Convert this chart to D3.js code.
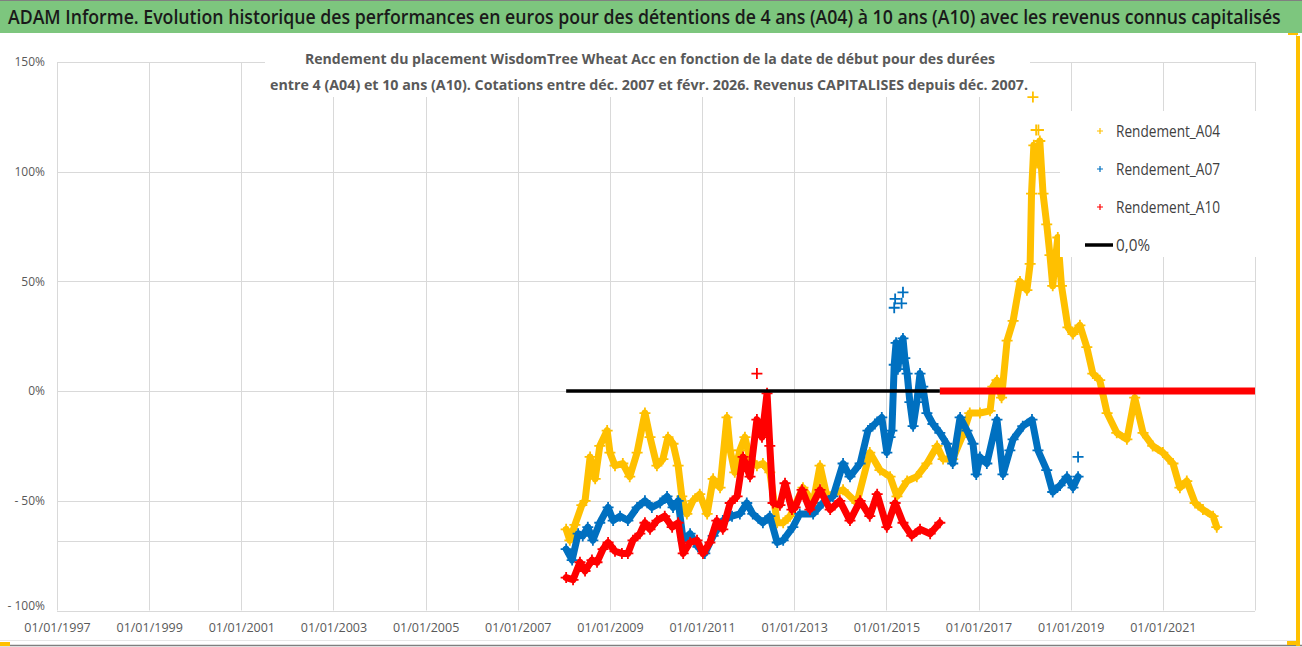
<!DOCTYPE html>
<html>
<head>
<meta charset="utf-8">
<script src="https://cdn.jsdelivr.net/npm/d3@7"></script>
<style>
  body { margin: 0; background: #fff; }
  svg { display: block; font-family: 'Open Sans', 'Noto Sans', sans-serif; }
</style>
</head>
<body>
<script>
'use strict';

// ---- data (decimal year of start date, return in %) ----
var xTicks = [1997, 1999, 2001, 2003, 2005, 2007, 2009, 2011, 2013, 2015, 2017, 2019, 2021];
var yTicks = [-100, -50, 0, 50, 100, 150];
var extraGrid = [-68.4];

var seriesNames = ['Rendement_A04', 'Rendement_A07', 'Rendement_A10'];
var seriesColors = ['#ffc000', '#0070c0', '#ff0000'];

var a04 = [
  [2008.05, -63], [2008.13, -68], [2008.24, -61], [2008.39, -52], [2008.46, -50], [2008.57, -30],
  [2008.68, -40], [2008.78, -25], [2008.94, -18], [2009.00, -28], [2009.11, -34], [2009.28, -33],
  [2009.43, -39], [2009.59, -28], [2009.76, -10], [2009.87, -21], [2010.02, -34], [2010.15, -31],
  [2010.26, -21], [2010.37, -24], [2010.48, -34], [2010.56, -48], [2010.67, -56], [2010.80, -50],
  [2010.95, -47], [2011.11, -56], [2011.24, -40], [2011.39, -44], [2011.54, -12], [2011.61, -27],
  [2011.71, -37], [2011.82, -27], [2011.93, -21], [2012.04, -31], [2012.19, -34], [2012.32, -33],
  [2012.47, -37], [2012.63, -60], [2012.76, -60], [2012.91, -57], [2013.19, -44], [2013.41, -51],
  [2013.56, -34], [2013.71, -48], [2014.06, -45], [2014.36, -51], [2014.64, -28], [2014.86, -36],
  [2015.08, -39], [2015.23, -48], [2015.45, -41], [2015.66, -39], [2015.88, -33], [2016.10, -25],
  [2016.23, -31], [2016.44, -31], [2016.64, -21], [2016.81, -10], [2017.03, -10], [2017.25, -9],
  [2017.31, 2], [2017.40, 5], [2017.50, -3], [2017.62, 23], [2017.75, 32], [2017.90, 50],
  [2018.05, 46], [2018.12, 58], [2018.15, 90], [2018.20, 112], [2018.27, 104], [2018.33, 114],
  [2018.40, 90], [2018.48, 76], [2018.55, 62], [2018.61, 48], [2018.72, 70], [2018.80, 48],
  [2018.94, 29], [2019.05, 26], [2019.20, 30], [2019.35, 20], [2019.48, 8], [2019.63, 5],
  [2019.79, -10], [2020.00, -19], [2020.22, -22], [2020.39, -3], [2020.57, -19], [2020.78, -25],
  [2021.00, -28], [2021.22, -33], [2021.37, -44], [2021.52, -41], [2021.70, -51], [2021.87, -54],
  [2022.09, -57], [2022.17, -62]
];
var a04Outliers = [[2018.18, 134], [2018.25, 119], [2018.30, 119]];

var a07 = [
  [2008.05, -72], [2008.18, -77], [2008.31, -65], [2008.41, -66], [2008.52, -62], [2008.63, -68],
  [2008.78, -60], [2008.96, -53], [2009.07, -59], [2009.22, -57], [2009.39, -59], [2009.59, -53],
  [2009.76, -50], [2009.91, -53], [2010.09, -51], [2010.24, -48], [2010.37, -53], [2010.48, -50],
  [2010.59, -68], [2010.74, -65], [2010.91, -71], [2011.06, -74], [2011.24, -66], [2011.45, -59],
  [2011.65, -57], [2011.82, -56], [2011.97, -51], [2012.10, -56], [2012.32, -60], [2012.47, -57],
  [2012.63, -69], [2012.76, -68], [2012.97, -62], [2013.12, -56], [2013.41, -56], [2013.62, -51],
  [2013.84, -48], [2014.06, -33], [2014.21, -39], [2014.43, -33], [2014.60, -18], [2014.75, -15],
  [2014.90, -12], [2015.01, -28], [2015.08, -21], [2015.12, -18], [2015.17, 12], [2015.21, 22],
  [2015.25, 10], [2015.30, 20], [2015.36, 24], [2015.40, 15], [2015.45, 8], [2015.51, -5],
  [2015.58, -16], [2015.66, -5], [2015.73, 8], [2015.79, 2], [2015.88, -10], [2016.01, -15],
  [2016.16, -19], [2016.31, -24], [2016.44, -33], [2016.60, -12], [2016.75, -18], [2016.88, -24],
  [2016.95, -38], [2017.03, -30], [2017.18, -33], [2017.40, -13], [2017.53, -38], [2017.68, -27],
  [2017.75, -22], [2017.96, -16], [2018.16, -13], [2018.29, -27], [2018.48, -36], [2018.61, -46],
  [2018.77, -43], [2018.92, -39], [2019.05, -44], [2019.16, -39]
];
var a07Outliers = [[2019.16, -30], [2015.17, 38], [2015.19, 42], [2015.33, 40], [2015.36, 45]];

var a10 = [
  [2008.05, -85], [2008.20, -86], [2008.35, -78], [2008.46, -82], [2008.61, -77], [2008.72, -78],
  [2008.85, -72], [2008.96, -69], [2009.11, -73], [2009.26, -74], [2009.39, -74], [2009.50, -68],
  [2009.65, -65], [2009.76, -60], [2009.87, -63], [2010.02, -59], [2010.19, -57], [2010.35, -62],
  [2010.48, -60], [2010.59, -74], [2010.74, -69], [2010.89, -68], [2011.02, -74], [2011.17, -69],
  [2011.32, -59], [2011.45, -63], [2011.61, -51], [2011.76, -48], [2011.89, -30], [2012.04, -39],
  [2012.19, -13], [2012.30, -21], [2012.41, -1], [2012.47, -25], [2012.54, -51], [2012.69, -52],
  [2012.80, -42], [2012.95, -54], [2013.02, -53], [2013.17, -45], [2013.34, -54], [2013.56, -45],
  [2013.78, -54], [2013.99, -50], [2014.21, -59], [2014.43, -50], [2014.64, -57], [2014.80, -47],
  [2015.01, -62], [2015.19, -51], [2015.36, -60], [2015.55, -66], [2015.73, -63], [2015.95, -65],
  [2016.16, -60]
];
var a10Outliers = [[2012.19, 8]];
// A10 has no 10-year window after Feb 2016: the workbook plots 0 there
var a10Zero = [[2016.16, 0], [2023.0, 0]];

var zeroLine = [[2008.05, 0], [2016.16, 0]];

// ---- layout ----
var W = 1302, H = 647;
var plot = { left: 57, right: 1255, top: 62, bottom: 610.5 };

var svg = d3.select('body').append('svg')
    .attr('width', W)
    .attr('height', H);

var x = d3.scaleLinear().domain([1997, 2023]).range([plot.left, plot.right]);
var y = d3.scaleLinear().domain([-100, 150]).range([plot.bottom, plot.top]);

// frame
svg.append('rect').attr('x', 0).attr('y', 0).attr('width', W).attr('height', H).attr('fill', '#fff');
svg.append('line').attr('x1', 0).attr('x2', W).attr('y1', 645.5).attr('y2', 645.5)
    .attr('stroke', '#7f7f7f').attr('stroke-width', 1.5);
svg.append('line').attr('x1', 0).attr('x2', 1296).attr('y1', 640.5).attr('y2', 640.5)
    .attr('stroke', '#e6e6e6');
svg.append('line').attr('x1', 1296.5).attr('x2', 1296.5).attr('y1', 33).attr('y2', 645)
    .attr('stroke', '#bfbfbf');
svg.append('rect').attr('x', 1296).attr('y', 36).attr('width', 4).attr('height', 610).attr('fill', '#ffc000');
svg.append('rect').attr('x', 1287).attr('y', 641).attr('width', 13).attr('height', 4).attr('fill', '#ffc000');
svg.append('rect').attr('x', 1288).attr('y', 32).attr('width', 10).attr('height', 3).attr('fill', '#ffc000');
svg.append('rect').attr('x', 0).attr('y', 642).attr('width', 10).attr('height', 4).attr('fill', '#ffc000');

// title bar
svg.append('rect').attr('x', 0).attr('y', 0).attr('width', W).attr('height', 33).attr('fill', '#7dc67e');
svg.append('line').attr('x1', 0).attr('x2', W).attr('y1', 0.5).attr('y2', 0.5).attr('stroke', '#808080');
var title = svg.append('text')
    .attr('font-size', 19.5)
    .attr('font-weight', 600)
    .attr('fill', '#1a1a1a')
    .text('ADAM Informe. Evolution historique des performances en euros pour des détentions de 4 ans (A04) à 10 ans (A10) avec les revenus connus capitalisés');
// squeeze horizontally to the width used in the workbook (Calibri is narrower)
var titleW = title.node().getComputedTextLength();
title.attr('transform', 'translate(8,24) scale(' + (1274 / titleW) + ',1)');

// gridlines
var grid = svg.append('g').attr('class', 'grid');
grid.selectAll('line.h')
    .data(yTicks.concat(extraGrid))
    .enter().append('line')
    .attr('class', 'h')
    .attr('x1', plot.left).attr('x2', plot.right)
    .attr('y1', function (d) { return Math.round(y(d)) + 0.5; })
    .attr('y2', function (d) { return Math.round(y(d)) + 0.5; })
    .attr('stroke', '#d9d9d9');
grid.selectAll('line.v')
    .data(xTicks.concat([2023]))
    .enter().append('line')
    .attr('class', 'v')
    .attr('x1', function (d) { return Math.round(x(d)) + 0.5; })
    .attr('x2', function (d) { return Math.round(x(d)) + 0.5; })
    .attr('y1', plot.top).attr('y2', plot.bottom)
    .attr('stroke', '#d9d9d9');

// axes (labels only)
var yAxis = d3.axisLeft(y)
    .tickValues(yTicks)
    .tickSize(0)
    .tickPadding(12)
    .tickFormat(function (d) { return d < 0 ? '- ' + (-d) + '%' : d + '%'; });
var gy = svg.append('g').attr('transform', 'translate(' + plot.left + ',0)').call(yAxis);
gy.select('.domain').remove();
gy.selectAll('text').attr('font-size', 12).attr('fill', '#595959').attr('font-family', 'Open Sans, sans-serif');
gy.selectAll('.tick').filter(function (d) { return d === -100; }).select('text').attr('dy', '-0.1em');

var xAxis = d3.axisBottom(x)
    .tickValues(xTicks)
    .tickSize(0)
    .tickPadding(13)
    .tickFormat(function (d) { return '01/01/' + d; });
var gx = svg.append('g').attr('transform', 'translate(0,' + plot.bottom + ')').call(xAxis);
gx.select('.domain').remove();
gx.selectAll('text').attr('font-size', 12.5).attr('fill', '#595959').attr('font-family', 'Open Sans, sans-serif');

// subtitle box (hides gridlines behind it, as in the workbook)
svg.append('rect').attr('x', 265).attr('y', 40).attr('width', 765).attr('height', 57).attr('fill', '#fff');
svg.append('text')
    .attr('x', 650).attr('y', 64)
    .attr('text-anchor', 'middle')
    .attr('font-size', 15).attr('font-weight', 'bold').attr('fill', '#595959')
    .attr('textLength', 690).attr('lengthAdjust', 'spacingAndGlyphs')
    .text('Rendement du placement WisdomTree Wheat Acc en fonction de la date de début pour des durées');
svg.append('text')
    .attr('x', 649).attr('y', 90)
    .attr('text-anchor', 'middle')
    .attr('font-size', 15).attr('font-weight', 'bold').attr('fill', '#595959')
    .attr('textLength', 758).attr('lengthAdjust', 'spacingAndGlyphs')
    .text('entre 4 (A04) et 10 ans (A10). Cotations entre déc. 2007 et févr. 2026. Revenus CAPITALISES depuis déc. 2007.');

// series
var line = d3.line()
    .x(function (d) { return x(d[0]); })
    .y(function (d) { return y(d[1]); });

function plus(s) {
    return 'M' + (-s) + ',0H' + s + 'M0,' + (-s) + 'V' + s;
}

function drawSeries(data, outliers, color) {
    var g = svg.append('g');
    g.append('path')
        .datum(data)
        .attr('d', line)
        .attr('fill', 'none')
        .attr('stroke', color)
        .attr('stroke-width', 7)
        .attr('stroke-linejoin', 'round')
        .attr('stroke-linecap', 'round');
    g.selectAll('path.m')
        .data(data.concat(outliers))
        .enter().append('path')
        .attr('class', 'm')
        .attr('transform', function (d) { return 'translate(' + x(d[0]) + ',' + y(d[1]) + ')'; })
        .attr('d', plus(5.5))
        .attr('stroke', color)
        .attr('stroke-width', 1.8);
    return g;
}

drawSeries(a04, a04Outliers, seriesColors[0]);
drawSeries(a07, a07Outliers, seriesColors[1]);
drawSeries(a10, a10Outliers, seriesColors[2]);

svg.append('path')
    .datum(a10Zero)
    .attr('d', line)
    .attr('stroke', seriesColors[2])
    .attr('stroke-width', 7);

svg.append('path')
    .datum(zeroLine)
    .attr('d', line)
    .attr('stroke', '#000')
    .attr('stroke-width', 3.5);

// legend
var legend = svg.append('g');
legend.append('rect').attr('x', 1060).attr('y', 111).attr('width', 215).attr('height', 146).attr('fill', '#fff');
var items = legend.selectAll('g.item')
    .data(seriesNames)
    .enter().append('g')
    .attr('class', 'item')
    .attr('transform', function (d, i) { return 'translate(0,' + (131 + i * 38) + ')'; });
items.append('path')
    .attr('transform', 'translate(1100,0)')
    .attr('d', plus(3))
    .attr('stroke', function (d, i) { return seriesColors[i]; })
    .attr('stroke-width', 1.2);
items.append('text')
    .attr('x', 1116).attr('dy', '0.35em')
    .attr('font-size', 16.5).attr('fill', '#404040')
    .attr('textLength', 104).attr('lengthAdjust', 'spacingAndGlyphs')
    .text(function (d) { return d; });

var zl = legend.append('g').attr('transform', 'translate(0,245)');
zl.append('line').attr('x1', 1085).attr('x2', 1113).attr('stroke', '#000').attr('stroke-width', 3.5);
zl.append('text')
    .attr('x', 1116).attr('dy', '0.35em')
    .attr('font-size', 16.5).attr('fill', '#404040')
    .attr('textLength', 34).attr('lengthAdjust', 'spacingAndGlyphs')
    .text('0,0%');
</script>
</body>
</html>
